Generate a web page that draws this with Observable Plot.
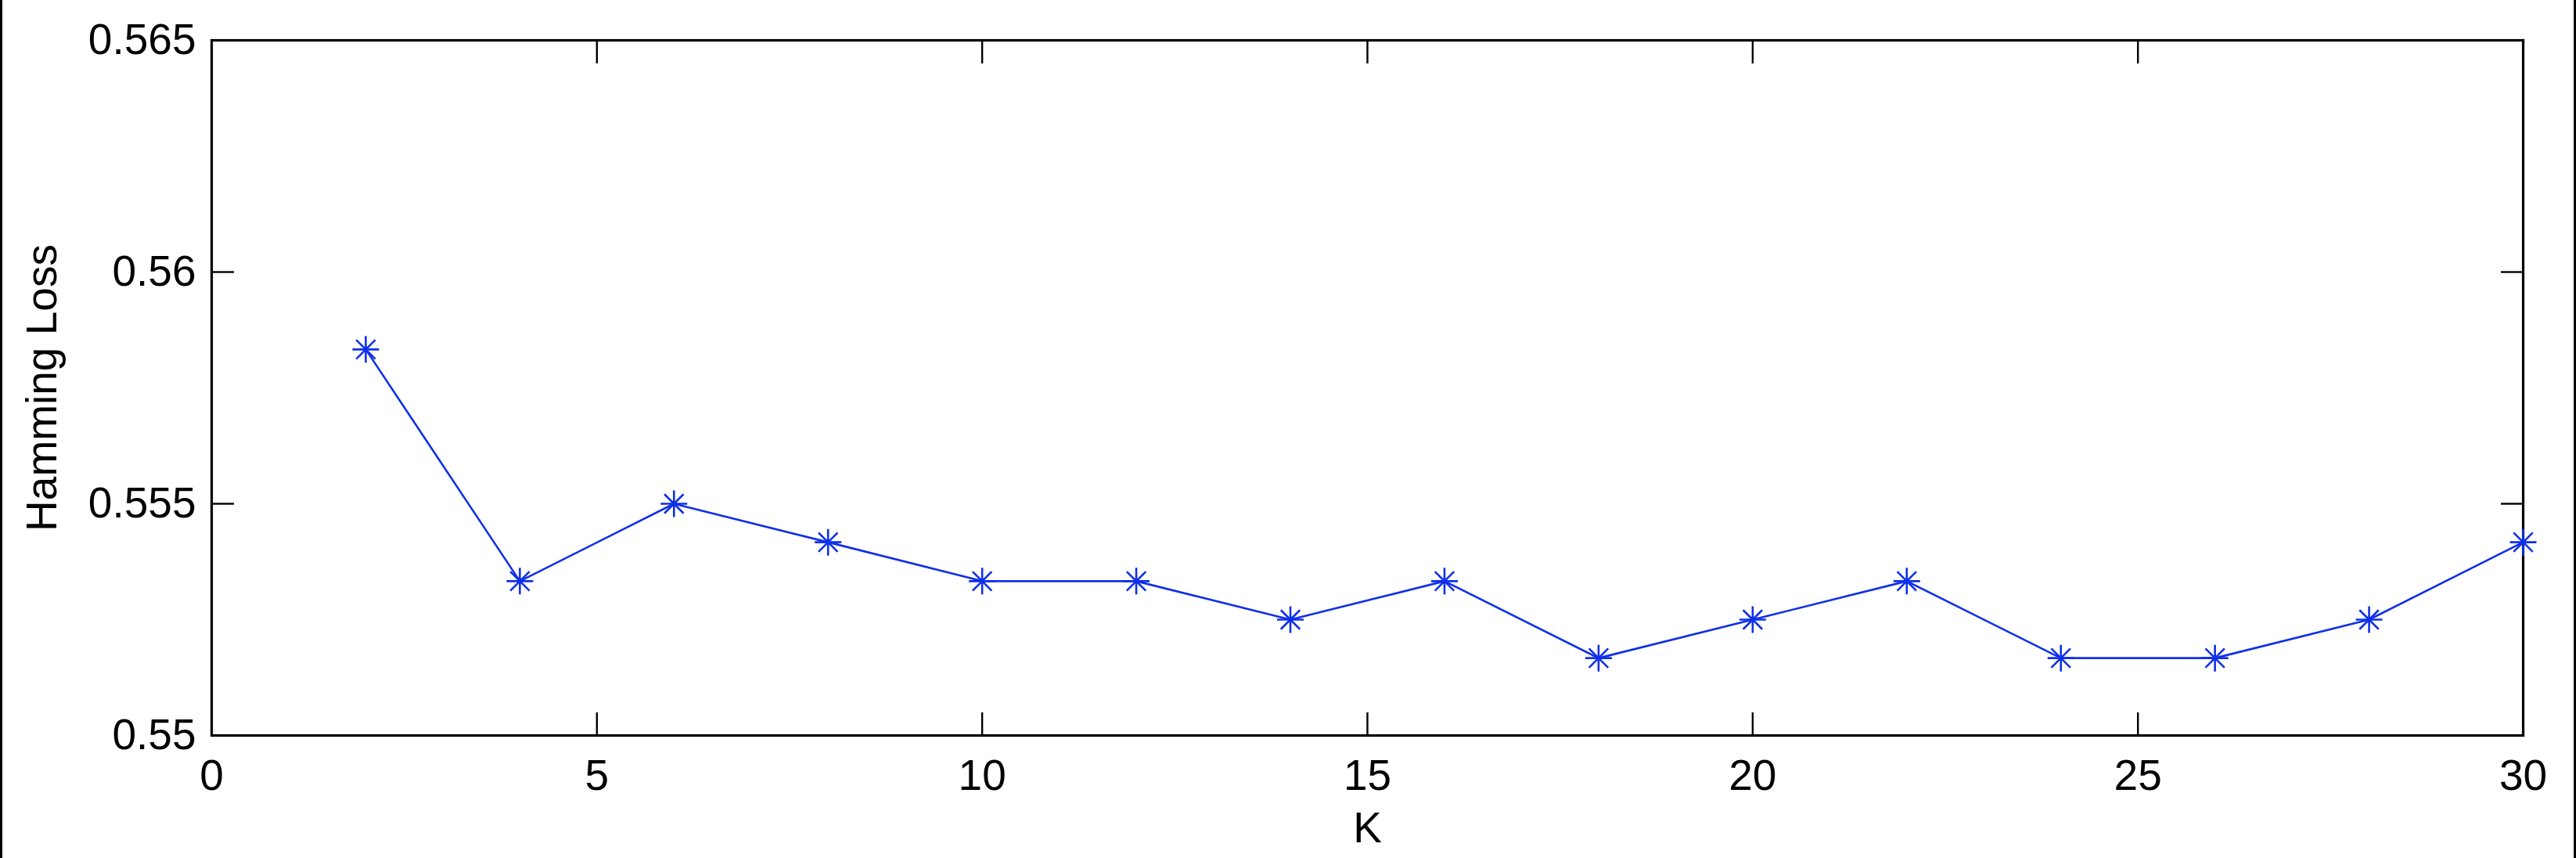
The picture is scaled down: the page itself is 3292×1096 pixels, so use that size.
<!DOCTYPE html>
<html>
<head>
<meta charset="utf-8">
<script src="https://cdn.jsdelivr.net/npm/d3@7"></script>
<script src="https://cdn.jsdelivr.net/npm/@observablehq/plot@0.6"></script>
<style>
  body { margin: 0; background: #fff; }
  #wrap { position: relative; width: 3292px; height: 1096px; overflow: hidden; background: #fff; }
  #wrap svg { position: absolute; left: 0; top: 0; }
  .edge { position: absolute; top: 0; width: 3px; height: 1096px; background: #000; z-index: 2; }
</style>
</head>
<body>
<div id="wrap">
  <div class="edge" style="left:0"></div>
  <div class="edge" style="left:3289px"></div>
</div>
<script>
// ---- data ----
const kValues = [2, 4, 6, 8, 10, 12, 14, 16, 18, 20, 22, 24, 26, 28, 30];
const hammingLoss = [0.55833, 0.55333, 0.55500, 0.55417, 0.55333, 0.55333, 0.55250, 0.55333,
                     0.55167, 0.55250, 0.55333, 0.55167, 0.55167, 0.55250, 0.55417];
const xTicks = [0, 5, 10, 15, 20, 25, 30];
const yTicks = [0.55, 0.555, 0.56, 0.565];
const xDomain = [0, 30];
const yDomain = [0.55, 0.565];
const xLabel = "K";
const yLabel = "Hamming Loss";

const data = kValues.map((k, i) => ({k, loss: hammingLoss[i]}));

const blue = "#1030e8";
const asterisk = {
  draw(context, size) {
    const r = Math.sqrt(size / Math.PI);
    const d = r * 0.72;
    context.moveTo(-r, 0); context.lineTo(r, 0);
    context.moveTo(0, -r); context.lineTo(0, r);
    context.moveTo(-d, -d); context.lineTo(d, d);
    context.moveTo(-d, d); context.lineTo(d, -d);
  }
};

const tickLen = 29;
const fs = 55;
const chart = Plot.plot({
  width: 3292,
  height: 1096,
  marginLeft: 270,
  marginRight: 68,
  marginTop: 51,
  marginBottom: 157,
  style: {fontFamily: "'Liberation Sans', Arial, Helvetica, sans-serif", fontSize: fs + "px", background: "transparent", color: "#000"},
  x: {domain: xDomain, ticks: xTicks},
  y: {domain: yDomain, ticks: yTicks},
  marks: [
    // inward ticks on all four sides
    Plot.axisX(xTicks, {anchor: "bottom", tickSize: -tickLen, tickFormat: () => "", label: null, strokeWidth: 2.4}),
    Plot.axisX(xTicks, {anchor: "top", tickSize: -tickLen, tickFormat: () => "", label: null, strokeWidth: 2.4}),
    Plot.axisY(yTicks, {anchor: "left", tickSize: -tickLen, tickFormat: () => "", label: null, strokeWidth: 2.4}),
    Plot.axisY(yTicks, {anchor: "right", tickSize: -tickLen, tickFormat: () => "", label: null, strokeWidth: 2.4}),
    // tick labels
    Plot.axisX(xTicks, {anchor: "bottom", tickSize: 0, tickPadding: 30, tickFormat: d => String(d), label: null, fontSize: fs}),
    Plot.axisY(yTicks, {anchor: "left", tickSize: 0, tickPadding: 20, tickFormat: d => String(d), label: null, fontSize: fs}),
    Plot.frame({stroke: "#000", strokeWidth: 3.2}),
    // axis titles
    Plot.text([xLabel], {frameAnchor: "bottom", lineAnchor: "top", dy: 97, fontSize: fs, fill: "#000"}),
    Plot.text([yLabel], {frameAnchor: "left", rotate: -90, textAnchor: "middle", lineAnchor: "middle", dx: -216, fontSize: fs, fill: "#000"}),
    // data
    Plot.line(data, {x: "k", y: "loss", stroke: blue, strokeWidth: 2.6}),
    Plot.dot(data, {x: "k", y: "loss", symbol: asterisk, r: 17, stroke: blue, fill: "none", strokeWidth: 2.6})
  ]
});
document.getElementById("wrap").appendChild(chart);
</script>
</body>
</html>
